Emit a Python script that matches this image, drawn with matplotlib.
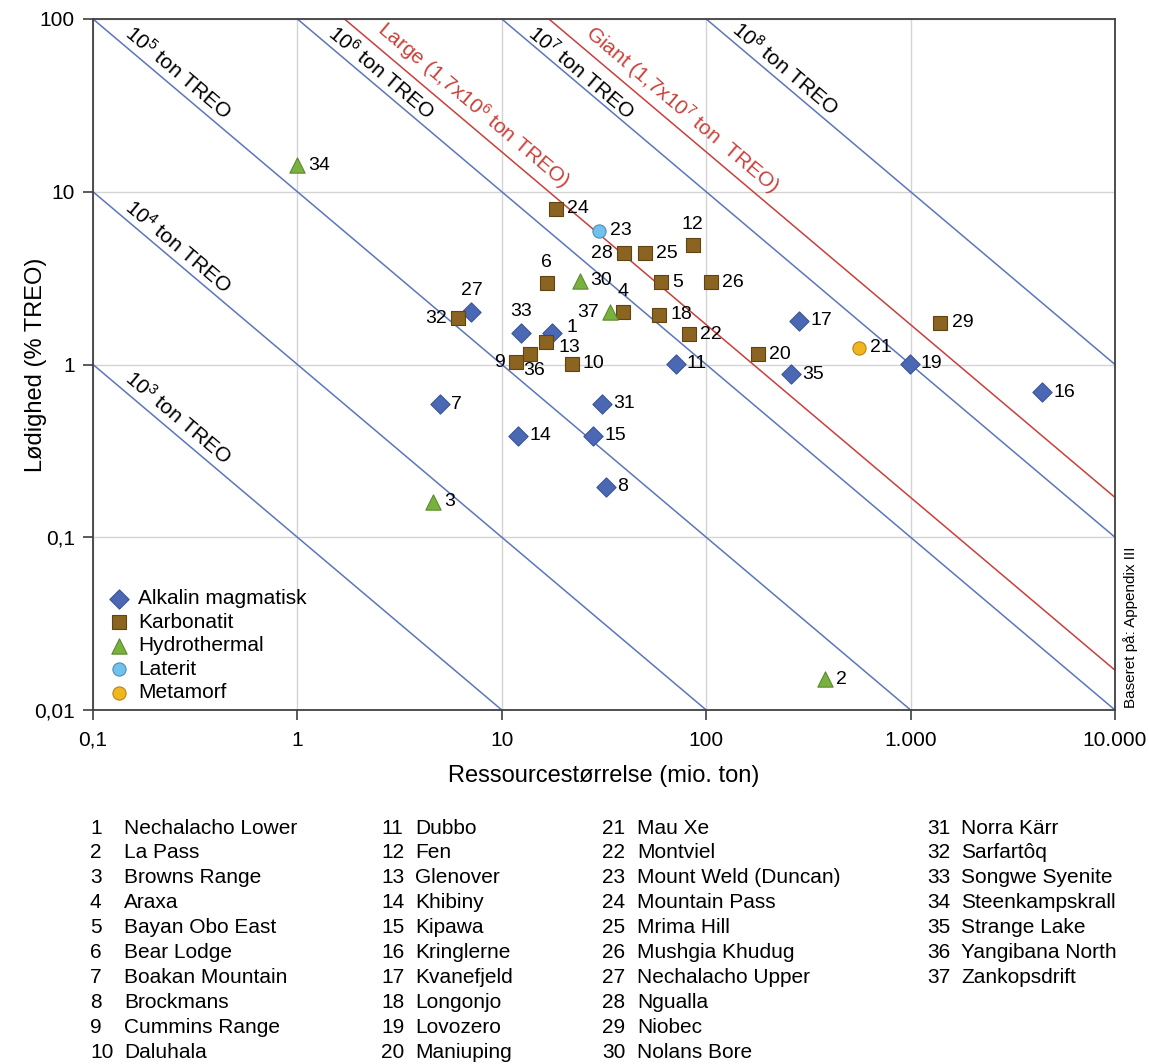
import math

import matplotlib
matplotlib.use('Agg')
import matplotlib.pyplot as plt
from matplotlib.ticker import FixedLocator, FixedFormatter, NullLocator

plt.rcParams['font.family'] = ['Liberation Sans', 'DejaVu Sans']
plt.rcParams['mathtext.fontset'] = 'custom'
plt.rcParams['mathtext.rm'] = 'Liberation Sans'
plt.rcParams['mathtext.it'] = 'Liberation Sans:italic'
plt.rcParams['mathtext.bf'] = 'Liberation Sans:bold'
plt.rcParams['mathtext.default'] = 'regular'

# --- data -----------------------------------------------------------------
site_names = [
    'Nechalacho Lower', 'La Pass', 'Browns Range', 'Araxa', 'Bayan Obo East',
    'Bear Lodge', 'Boakan Mountain', 'Brockmans', 'Cummins Range', 'Daluhala',
    'Dubbo', 'Fen', 'Glenover', 'Khibiny', 'Kipawa',
    'Kringlerne', 'Kvanefjeld', 'Longonjo', 'Lovozero', 'Maniuping',
    'Mau Xe', 'Montviel', 'Mount Weld (Duncan)', 'Mountain Pass', 'Mrima Hill',
    'Mushgia Khudug', 'Nechalacho Upper', 'Ngualla', 'Niobec', 'Nolans Bore',
    'Norra Kärr', 'Sarfartôq', 'Songwe Syenite', 'Steenkampskrall', 'Strange Lake',
    'Yangibana North', 'Zankopsdrift',
]
site_ids = list(range(1, len(site_names) + 1))

# resource size (mio. ton) and grade (% TREO)
resource = [17.7, 380, 4.6, 39, 60, 16.6, 5.0, 32.5, 11.7, 22,
            71, 86, 16.4, 12, 28, 4400, 286, 59, 990, 180,
            560, 82, 30, 18.4, 50, 105, 7.1, 39.5, 1400, 24,
            31, 6.1, 12.4, 1.0, 260, 13.8, 34]
grade = [1.53, 0.0151, 0.161, 2.0, 3.0, 2.95, 0.59, 0.196, 1.03, 1.01,
         1.01, 4.9, 1.35, 0.386, 0.387, 0.69, 1.79, 1.94, 1.01, 1.15,
         1.25, 1.5, 5.96, 7.95, 4.4, 3.0, 2.02, 4.4, 1.75, 3.05,
         0.593, 1.85, 1.53, 14.2, 0.877, 1.15, 2.01]
deposit_type = ['A', 'H', 'H', 'K', 'K', 'K', 'A', 'A', 'K', 'K',
                'A', 'K', 'K', 'A', 'A', 'A', 'A', 'K', 'A', 'K',
                'M', 'K', 'L', 'K', 'K', 'K', 'A', 'K', 'K', 'H',
                'A', 'K', 'A', 'H', 'A', 'K', 'H']

type_codes = ['A', 'K', 'H', 'L', 'M']
type_labels = ['Alkalin magmatisk', 'Karbonatit', 'Hydrothermal', 'Laterit', 'Metamorf']

# iso-tonnage lines (ton TREO)
treo_levels = [1e3, 1e4, 1e5, 1e6, 1e7, 1e8]
class_levels = [1.7e6, 1.7e7]
class_names = ['Large (1,7x10$^{6}$ ton TREO)', 'Giant (1,7x10$^{7}$ ton  TREO)']

x_ticks = [0.1, 1, 10, 100, 1000, 10000]
x_ticklabels = ['0,1', '1', '10', '100', '1.000', '10.000']
y_ticks = [0.01, 0.1, 1, 10, 100]
y_ticklabels = ['0,01', '0,1', '1', '10', '100']

# --- styles ---------------------------------------------------------------
type_style = {
    'A': dict(marker='D', s=9.8 ** 2, color='#4a68b4', edgecolor='#3a5597'),
    'K': dict(marker='s', s=10.5 ** 2, color='#8a6420', edgecolor='#5f4514'),
    'H': dict(marker='^', s=11 ** 2, color='#79b13f', edgecolor='#5b8a2d'),
    'L': dict(marker='o', s=9.5 ** 2, color='#72c0ec', edgecolor='#4f8fb5'),
    'M': dict(marker='o', s=9.5 ** 2, color='#f1b521', edgecolor='#b8860b'),
}
blue_line = '#5b76bb'
red_line = '#c9403a'

# where each number sits relative to its marker
label_pos = {6: 'a', 27: 'a', 33: 'a', 4: 'a', 12: 'a',
             32: 'l', 28: 'l', 9: 'l', 37: 'l', 36: 'b', 1: 'ru', 13: 'rd'}
# line-label centres (data coords)
treo_label_xy = {1e3: (0.26, 0.49), 1e4: (0.26, 4.85), 1e5: (0.26, 49),
                 1e6: (2.56, 49), 1e7: (24.4, 49), 1e8: (243, 52)}
class_label_xy = [(7.23, 31.8), (76.2, 30.1)]

fig = plt.figure(figsize=(11.49, 10.64), dpi=100)
W, H = 1149, 1064
ax = fig.add_axes([93 / W, 1 - 710 / H, (1115 - 93) / W, (710 - 19) / H])
ax.set_xscale('log')
ax.set_yscale('log')
ax.set_xlim(0.1, 10000)
ax.set_ylim(0.01, 100)

ax.xaxis.set_major_locator(FixedLocator(x_ticks))
ax.xaxis.set_major_formatter(FixedFormatter(x_ticklabels))
ax.xaxis.set_minor_locator(NullLocator())
ax.yaxis.set_major_locator(FixedLocator(y_ticks))
ax.yaxis.set_major_formatter(FixedFormatter(y_ticklabels))
ax.yaxis.set_minor_locator(NullLocator())
ax.tick_params(labelsize=15, length=7, width=1.2, color='#404040', pad=6)
ax.tick_params(axis='x', pad=8)
ax.grid(True, color='#d4d4d4', lw=1)
ax.set_axisbelow(True)
for sp in ax.spines.values():
    sp.set_color('#404040')
    sp.set_linewidth(1.3)

# angle of the iso-lines on screen
p1 = ax.transData.transform((1, 10))
p2 = ax.transData.transform((10, 1))
angle = math.degrees(math.atan2(p2[1] - p1[1], p2[0] - p1[0]))

xs = [0.1, 10000]
for t in treo_levels:
    ax.plot(xs, [t / (x * 1e4) for x in xs], color=blue_line, lw=1.1, zorder=1)
    exp = int(round(math.log10(t)))
    lx, ly = treo_label_xy[t]
    ax.text(lx, ly, '10$^{%d}$ ton TREO' % exp, rotation=angle, rotation_mode='anchor',
            ha='center', va='center', fontsize=15, color='black')
for t, name, (lx, ly) in zip(class_levels, class_names, class_label_xy):
    ax.plot(xs, [t / (x * 1e4) for x in xs], color=red_line, lw=1.1, zorder=1)
    ax.text(lx, ly, name, rotation=angle, rotation_mode='anchor',
            ha='center', va='center', fontsize=15, color=red_line)

for code, lab in zip(type_codes, type_labels):
    st = type_style[code]
    px = [r for r, d in zip(resource, deposit_type) if d == code]
    py = [g for g, d in zip(grade, deposit_type) if d == code]
    ax.scatter(px, py, marker=st['marker'], s=st['s'], c=st['color'],
               edgecolors=st['edgecolor'], linewidths=0.8, zorder=3, label=lab)

offsets = {'r': ((8, 0), 'left', 'center'), 'a': ((0, 9), 'center', 'bottom'),
           'l': ((-8, 0), 'right', 'center'), 'b': ((3, -6), 'center', 'top'),
           'ru': ((10, 4), 'left', 'center'), 'rd': ((9, -4), 'left', 'center')}
for sid, r, g in zip(site_ids, resource, grade):
    off, ha, va = offsets[label_pos.get(sid, 'r')]
    ax.annotate(str(sid), (r, g), xytext=off, textcoords='offset points',
                ha=ha, va=va, fontsize=14, zorder=4)

ax.legend(loc='lower left', bbox_to_anchor=(0.0153, 0.011), frameon=False,
          fontsize=15, handlelength=1.0, handletextpad=0.4, labelspacing=0.22,
          borderaxespad=0, borderpad=0, scatterpoints=1)

ax.set_xlabel('Ressourcestørrelse (mio. ton)', fontsize=17, labelpad=11)
ax.set_ylabel('Lødighed (% TREO)', fontsize=17, labelpad=-9)

fig.text(1131 / W, 1 - 708 / H, 'Baseret på: Appendix III', rotation=90,
         ha='center', va='bottom', fontsize=11)

# numbered key below the chart
col_x = [(90, 124), (381, 415), (602, 637), (927, 961)]
for i, (sid, name) in enumerate(zip(site_ids, site_names)):
    col, row = divmod(i, 10)
    nx, tx = col_x[col]
    yy = 1 - (828 + row * 24.9) / H
    fig.text(nx / W, yy, str(sid), ha='left', va='center', fontsize=15)
    fig.text(tx / W, yy, name, ha='left', va='center', fontsize=15)

fig.savefig('out.png', dpi=100)
